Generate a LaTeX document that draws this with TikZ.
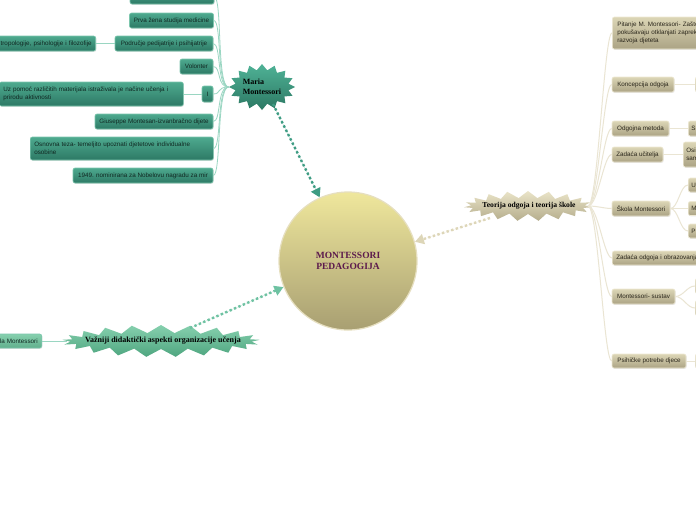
\documentclass[tikz,border=0pt]{standalone}
\usepackage{fontspec}
\setmainfont{Liberation Sans}
\newfontfamily\titlefont{Liberation Serif}
\usetikzlibrary{shapes.symbols,arrows.meta,shadows,calc}
\definecolor{tealtop}{HTML}{4EAA8F}
\definecolor{tealbot}{HTML}{2D7965}
\definecolor{tealborder}{HTML}{7CC6AD}
\definecolor{tealtext}{HTML}{102822}
\definecolor{tealline}{HTML}{9AD6C2}
\definecolor{beigetop}{HTML}{DCD6B6}
\definecolor{beigebot}{HTML}{ABA384}
\definecolor{beigeborder}{HTML}{EEE9D4}
\definecolor{beigetext}{HTML}{2A261B}
\definecolor{beigeline}{HTML}{EAE5D3}
\definecolor{circtop}{HTML}{EFE79C}
\definecolor{circbot}{HTML}{A89F72}
\definecolor{circborder}{HTML}{E6DFC0}
\definecolor{purpletext}{HTML}{5C1A4C}
\definecolor{mariatop}{HTML}{4FB296}
\definecolor{mariabot}{HTML}{2C7863}
\definecolor{vaztop}{HTML}{86D0AE}
\definecolor{vazbot}{HTML}{4FA680}
\definecolor{vazarrow}{HTML}{6EC2A2}
\definecolor{teotop}{HTML}{EAE4C8}
\definecolor{teobot}{HTML}{B5AD8C}
\definecolor{teoarrow}{HTML}{DDD6B8}
\definecolor{mariaarrow}{HTML}{3E9C83}
\tikzset{
  tbox/.style={rectangle, rounded corners=2pt, draw=tealborder, line width=0.6pt,
    top color=tealtop, bottom color=tealbot, text=tealtext, inner sep=0pt,
    font=\fontsize{6.3}{8}\selectfont,
    drop shadow={opacity=0.2, shadow xshift=0.6pt, shadow yshift=-0.8pt}},
  bbox/.style={rectangle, rounded corners=2pt, draw=beigeborder, line width=0.6pt,
    top color=beigetop, bottom color=beigebot, text=beigetext, inner sep=0pt,
    font=\fontsize{6.3}{8}\selectfont,
    drop shadow={opacity=0.2, shadow xshift=0.6pt, shadow yshift=-0.8pt}},
  burst/.style={starburst, random starburst=0, draw=none, inner sep=0pt},
  lcon/.style={draw=tealline, line width=0.8pt},
  rcon/.style={draw=beigeline, line width=1pt},
  darrow/.style={line width=2.4pt, dash pattern=on 2.4pt off 2.4pt,
    -{Triangle[length=9pt,width=10pt]}},
}
\begin{document}
\begin{tikzpicture}[x=1pt,y=-1pt]
\useasboundingbox[fill=white] (0,0) rectangle (696,520);

% central node
\node[circle, minimum size=138pt, inner sep=0pt, top color=circtop, bottom color=circbot,
  draw=circborder, line width=1.2pt, text=purpletext, align=center,
  font=\titlefont\bfseries\fontsize{9.5}{11.5}\selectfont] (circ) at (348,261)
  {MONTESSORI\\PEDAGOGIJA};

% Maria Montessori
\node[burst, starburst points=16, starburst point height=6pt, minimum width=66pt,
  minimum height=46pt, top color=mariatop, bottom color=mariabot] (maria) at (262,87) {};
\node[align=left, text=black, font=\titlefont\bfseries\fontsize{8}{9.5}\selectfont]
  (mariat) at (262,87) {Maria\\Montessori};

% Teorija
\node[burst, starburst points=19, starburst point height=7pt, minimum width=128pt,
  minimum height=30pt, top color=teotop, bottom color=teobot] (teo) at (528,206) {};
\node[text=black, font=\titlefont\bfseries\fontsize{7.6}{9}\selectfont] (teot) at (529,206)
  {Teorija odgoja i teorija škole};

% Vazniji
\node[burst, starburst points=21, starburst point height=8pt, minimum width=198pt,
  minimum height=32pt, top color=vaztop, bottom color=vazbot] (vaz) at (161,341) {};
\node[text=black, font=\titlefont\bfseries\fontsize{8}{9.5}\selectfont] (vazt) at (163,341)
  {Važniji didaktički aspekti organizacije učenja};

% arrows
\draw[darrow, draw=mariaarrow, fill=mariaarrow] ($(maria.center)+(11,17)$) -- (circ.114);
\draw[darrow, draw=teoarrow, fill=teoarrow] ($(teo.center)+(-38,12)$) -- (circ.16);
\draw[darrow, draw=vazarrow, fill=vazarrow] ($(vaz.center)+(29,-13)$) -- (circ.202);

% left teal boxes
\node[tbox, minimum width=84pt, minimum height=14pt] (top0) at (172,-3) {};
\node[tbox, minimum width=84pt, minimum height=15pt] (prva) at (171.5,20.5) {Prva žena studija medicine};
\node[tbox, minimum width=98pt, minimum height=15pt] (podr) at (164,43.5) {Područje pedijatrije i psihijatrije};
\node[tbox, anchor=east, text width=100pt, align=right, inner xsep=4pt, minimum height=15pt] (antr) at (96,43.5) {tropologije, psihologije i filozofije};
\node[tbox, minimum width=33pt, minimum height=15pt] (vol) at (196.5,66.5) {Volonter};
\node[tbox, minimum width=11pt, minimum height=16pt] (ii) at (207.5,94) {I};
\node[tbox, anchor=west, text width=176pt, align=left, inner xsep=4pt, minimum height=24pt] (uz) at (-1,94)
  {Uz pomoć različitih materijala istraživala je načine učenja i\\prirodu aktivnosti};
\node[tbox, minimum width=118pt, minimum height=15pt] (gius) at (154,121.5) {Giuseppe Montesan-izvanbračno dijete};
\node[tbox, anchor=west, text width=175pt, align=left, inner xsep=4pt, minimum height=23pt] (osn) at (30,148.5)
  {Osnovna teza- temeljito upoznati djetetove individualne\\osobine};
\node[tbox, minimum width=140pt, minimum height=15pt] (nob) at (143,175.5) {1949. nominirana za Nobelovu nagradu za mir};

\foreach \b in {top0,prva,podr,vol,ii,gius,osn,nob}{
  \draw[lcon] (maria.west) .. controls +(-12,0) and +(8,0) .. (\b.east);
}
\draw[lcon] (antr.east) -- (podr.west);
\draw[lcon] (uz.east) -- (ii.west);

% Vazniji child
\node[tbox, anchor=east, text width=60pt, align=right, inner xsep=4pt, minimum height=14pt,
  top color=vaztop, bottom color=vazbot!90!white] (skl) at (42,341) {la Montessori};
\draw[lcon] (skl.east) -- (vaz.west);

% right beige boxes
\node[bbox, anchor=west, text width=120pt, align=left, inner xsep=5pt, minimum height=32pt] (pit) at (612,33)
  {Pitanje M. Montessori- Zašto\\pokušavaju otklanjati zapreke\\razvoja djeteta};
\node[bbox, minimum width=62pt, minimum height=15pt] (konc) at (643,84.5) {Koncepcija odgoja};
\node[bbox, anchor=west, minimum width=30pt, minimum height=15pt] (konc1) at (695,84.5) {};
\node[bbox, minimum width=57pt, minimum height=15pt] (odg) at (640.5,128.5) {Odgojna metoda};
\node[bbox, anchor=west, text width=30pt, align=left, inner xsep=3pt, minimum height=15pt] (odg1) at (688,128.5) {S};
\node[bbox, minimum width=51pt, minimum height=15pt] (zad) at (637.5,154.5) {Zadaća učitelja};
\node[bbox, anchor=west, text width=30pt, align=left, inner xsep=3pt, minimum height=25pt] (zad1) at (683,154.5) {Osi\\sam};
\node[bbox, minimum width=58pt, minimum height=15pt] (skol) at (641,208.5) {Škola Montessori};
\node[bbox, anchor=west, text width=30pt, align=left, inner xsep=3pt, minimum height=14pt] (sk1) at (688,185) {U};
\node[bbox, anchor=west, text width=30pt, align=left, inner xsep=3pt, minimum height=14pt] (sk2) at (688,208.5) {M};
\node[bbox, anchor=west, text width=30pt, align=left, inner xsep=3pt, minimum height=14pt] (sk3) at (688,231) {P};
\node[bbox, anchor=west, text width=100pt, align=left, inner xsep=4pt, minimum height=14pt] (zoo) at (612,258) {Zadaća odgoja i obrazovanja};
\node[bbox, minimum width=63pt, minimum height=15pt] (sus) at (643.5,296.5) {Montessori- sustav};
\node[bbox, anchor=west, minimum width=30pt, minimum height=15pt] (sus1) at (695,286) {};
\node[bbox, anchor=west, minimum width=30pt, minimum height=15pt] (sus2) at (695,308) {};
\node[bbox, minimum width=74pt, minimum height=14pt] (psi) at (649,361) {Psihičke potrebe djece};
\node[bbox, anchor=west, minimum width=30pt, minimum height=14pt] (psi1) at (695,361) {};

\foreach \b in {pit,konc,odg,zad,skol,zoo,sus,psi}{
  \draw[rcon] (teo.east) .. controls +(10,0) and +(-8,0) .. (\b.west);
}
\draw[rcon] (konc.east) -- (konc1.west);
\draw[rcon] (odg.east) -- (odg1.west);
\draw[rcon] (zad.east) -- (zad1.west);
\draw[rcon] (psi.east) -- (psi1.west);
\foreach \b in {sk1,sk2,sk3}{
  \draw[rcon] (skol.east) .. controls +(8,0) and +(-8,0) .. (\b.west);
}
\foreach \b in {sus1,sus2}{
  \draw[rcon] (sus.east) .. controls +(8,0) and +(-8,0) .. (\b.west);
}
\end{tikzpicture}
\end{document}
